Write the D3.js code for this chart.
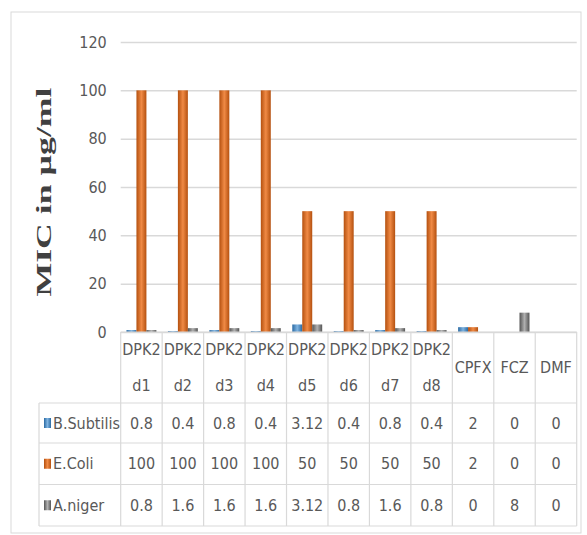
<!DOCTYPE html>
<html>
<head>
<meta charset="utf-8">
<script src="https://cdn.jsdelivr.net/npm/d3@7"></script>
<style>
  body { margin: 0; background: #fff; }
</style>
</head>
<body>
<svg width="587" height="535" font-family="'Liberation Sans Narrow', 'DejaVu Sans Condensed', 'DejaVu Sans', sans-serif" font-stretch="condensed"></svg>
<script>
// chart data
var categories = ["DPK2 d1", "DPK2 d2", "DPK2 d3", "DPK2 d4", "DPK2 d5", "DPK2 d6", "DPK2 d7", "DPK2 d8", "CPFX", "FCZ", "DMF"];
var seriesNames = ["B.Subtilis", "E.Coli", "A.niger"];
var bSubtilis = [0.8, 0.4, 0.8, 0.4, 3.12, 0.4, 0.8, 0.4, 2, 0, 0];
var eColi = [100, 100, 100, 100, 50, 50, 50, 50, 2, 0, 0];
var aNiger = [0.8, 1.6, 1.6, 1.6, 3.12, 0.8, 1.6, 0.8, 0, 8, 0];
var yTicks = [0, 20, 40, 60, 80, 100, 120];
var yTitle = "MIC in \u00b5g/ml";

var series = [bSubtilis, eColi, aNiger];
var colors = [
    {edge: "#2a6aa3", mid: "#7fb3e0"},
    {edge: "#b4500f", mid: "#f08a45"},
    {edge: "#555555", mid: "#b0b0b0"}
];

var svg = d3.select("svg"),
    plotLeft = 120.7, plotRight = 576.7,
    plotTop = 42, plotBottom = 332,
    rowH = [71, 40, 41.5, 41.5],
    legendLeft = 39,
    fontSize = 16,
    textColor = "#595959",
    lineColor = "#d9d9d9";

// outer chart border
svg.append("rect")
    .attr("x", 11).attr("y", 12)
    .attr("width", 570).attr("height", 521)
    .attr("fill", "none")
    .attr("stroke", lineColor);

var x = d3.scaleBand()
    .domain(categories)
    .range([plotLeft, plotRight]);

var xs = d3.scaleBand()
    .domain(d3.range(seriesNames.length))
    .range([0, x.bandwidth()])
    .paddingOuter(0.58);

var y = d3.scaleLinear()
    .domain([0, 120])
    .range([plotBottom, plotTop]);

// gradients for bars
var defs = svg.append("defs");
colors.forEach(function(c, i) {
    var g = defs.append("linearGradient").attr("id", "grad" + i)
        .attr("x1", "0%").attr("x2", "100%").attr("y1", "0%").attr("y2", "0%");
    g.append("stop").attr("offset", "0%").attr("stop-color", c.edge);
    g.append("stop").attr("offset", "50%").attr("stop-color", c.mid);
    g.append("stop").attr("offset", "100%").attr("stop-color", c.edge);
});

// gridlines
svg.append("g")
    .attr("transform", "translate(" + plotLeft + ",0)")
    .call(d3.axisLeft(y).tickValues(yTicks).tickSize(-(plotRight - plotLeft)).tickFormat(""))
    .call(function(g) { g.select(".domain").remove(); })
    .selectAll("line")
    .attr("stroke", lineColor)
    .attr("stroke-width", 1.5);

// y tick labels
svg.append("g")
    .attr("transform", "translate(" + plotLeft + ",0)")
    .call(d3.axisLeft(y).tickValues(yTicks).tickSize(0).tickPadding(14))
    .call(function(g) { g.select(".domain").remove(); })
    .attr("font-family", null)
    .attr("font-size", null)
    .selectAll("text")
    .attr("font-size", fontSize)
    .attr("fill", textColor);

// y title
svg.append("text")
    .attr("transform", "translate(51,192) rotate(-90)")
    .attr("text-anchor", "middle")
    .attr("font-family", "'Liberation Serif', 'DejaVu Serif', serif")
    .attr("font-stretch", "normal")
    .attr("font-weight", "bold")
    .attr("font-size", 22)
    .attr("textLength", 209)
    .attr("lengthAdjust", "spacingAndGlyphs")
    .attr("fill", "#404040")
    .text(yTitle);

// bars
var groups = svg.append("g").selectAll("g")
    .data(series)
    .join("g")
    .attr("fill", function(d, i) { return "url(#grad" + i + ")"; });

groups.each(function(vals, si) {
    d3.select(this).selectAll("rect")
        .data(vals)
        .join("rect")
        .attr("x", function(d, i) { return x(categories[i]) + xs(si); })
        .attr("width", xs.bandwidth())
        .attr("y", function(d) { return y(d); })
        .attr("height", function(d) { return plotBottom - y(d); });
});

// data table
var rowY = [plotBottom];
rowH.forEach(function(h) { rowY.push(rowY[rowY.length - 1] + h); });
var table = svg.append("g").attr("stroke", lineColor).attr("stroke-width", 1.2);

// horizontal table lines
rowY.forEach(function(ry, i) {
    table.append("line")
        .attr("x1", i === 0 ? plotLeft : legendLeft).attr("x2", plotRight)
        .attr("y1", ry).attr("y2", ry);
});
// vertical table lines
categories.concat(["end"]).forEach(function(c, i) {
    var vx = i < categories.length ? x(c) : plotRight;
    table.append("line")
        .attr("x1", vx).attr("x2", vx)
        .attr("y1", plotBottom).attr("y2", rowY[rowY.length - 1]);
});
table.append("line")
    .attr("x1", legendLeft).attr("x2", legendLeft)
    .attr("y1", rowY[1]).attr("y2", rowY[rowY.length - 1]);

// header labels
var headers = svg.append("g").selectAll("text")
    .data(categories)
    .join("text")
    .attr("text-anchor", "middle")
    .attr("font-size", fontSize)
    .attr("fill", textColor)
    .attr("x", function(d) { return x(d) + x.bandwidth() / 2; })
    .attr("y", plotBottom + rowH[0] / 2);

headers.each(function(d) {
    var parts = d.split(" ");
    var t = d3.select(this);
    parts.forEach(function(p, k) {
        t.append("tspan")
            .attr("x", x(d) + x.bandwidth() / 2)
            .attr("dy", k === 0 ? (parts.length === 1 ? "0.35em" : "-0.8em") : "2.25em")
            .text(p);
    });
});

// value rows with legend keys
series.forEach(function(vals, si) {
    var cy = (rowY[si + 1] + rowY[si + 2]) / 2;
    svg.append("rect")
        .attr("x", 44).attr("y", cy - 5)
        .attr("width", 7).attr("height", 10)
        .attr("fill", "url(#grad" + si + ")");
    svg.append("text")
        .attr("x", 53).attr("y", cy)
        .attr("dy", "0.35em")
        .attr("font-size", fontSize)
        .attr("fill", textColor)
        .text(seriesNames[si]);
    svg.append("g").selectAll("text")
        .data(vals)
        .join("text")
        .attr("text-anchor", "middle")
        .attr("font-size", fontSize)
        .attr("fill", textColor)
        .attr("x", function(d, i) { return x(categories[i]) + x.bandwidth() / 2; })
        .attr("y", cy)
        .attr("dy", "0.35em")
        .text(function(d) { return d; });
});
</script>
</body>
</html>
